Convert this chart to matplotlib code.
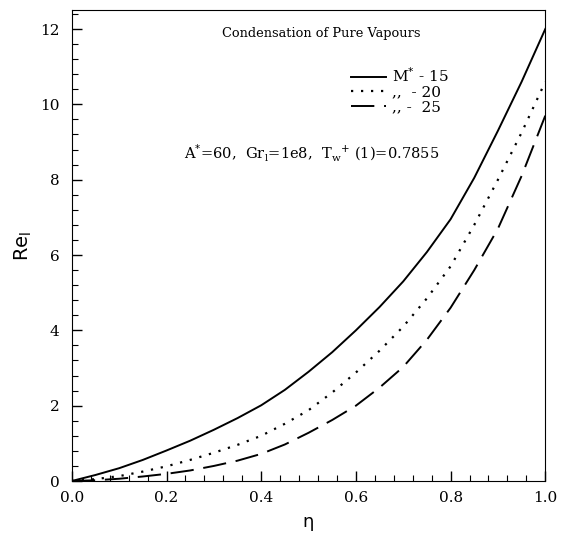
import matplotlib.pyplot as plt
import numpy as np

eta = [0.0, 0.05, 0.1, 0.15, 0.2, 0.25, 0.3, 0.35, 0.4, 0.45, 0.5,
       0.55, 0.6, 0.65, 0.7, 0.75, 0.8, 0.85, 0.9, 0.95, 1.0]
re_15 = [0.0, 0.16, 0.34, 0.56, 0.81, 1.07, 1.36, 1.67, 2.01, 2.42, 2.9,
         3.42, 4.0, 4.62, 5.3, 6.08, 6.95, 8.05, 9.3, 10.6, 12.0]
re_20 = [0.0, 0.05, 0.13, 0.25, 0.39, 0.56, 0.75, 0.96, 1.2, 1.52, 1.88,
         2.35, 2.88, 3.46, 4.1, 4.85, 5.7, 6.8, 8.0, 9.25, 10.6]
re_25 = [0.0, 0.02, 0.06, 0.12, 0.19, 0.28, 0.4, 0.54, 0.72, 0.97, 1.28,
         1.62, 2.0, 2.48, 3.03, 3.75, 4.6, 5.6, 6.7, 8.1, 9.7]
labels = [r"M$^{*}$ - 15", ",,  - 20", ",, -  25"]

serif = "DejaVu Serif"

fig = plt.figure(figsize=(5.61, 5.36), dpi=100)
ax = fig.add_axes([0.128, 0.1026, 0.844, 0.8784])

l1, = ax.plot(eta, re_15, color="black", lw=1.4, ls="-")
l2, = ax.plot(eta, re_20, color="black", lw=1.6, ls=(0, (1, 3.5)))
l3, = ax.plot(eta, re_25, color="black", lw=1.4, ls=(0, (12, 5)))

ax.set_xlim(0, 1.0)
ax.set_ylim(0, 12.5)
ax.set_xticks(np.arange(0, 1.01, 0.2))
ax.set_xticks(np.arange(0, 1.01, 0.04), minor=True)
ax.set_yticks(np.arange(0, 12.1, 2))
ax.set_yticks(np.arange(0, 12.5, 0.4), minor=True)
ax.set_xticklabels(["%.1f" % v for v in np.arange(0, 1.01, 0.2)], family=serif, fontsize=11)
ax.set_yticklabels(["%d" % v for v in np.arange(0, 12.1, 2)], family=serif, fontsize=11)
ax.tick_params(which="both", direction="in", top=False, right=False)
ax.tick_params(which="major", length=7, width=1)
ax.tick_params(which="minor", length=4, width=0.8)
ax.tick_params(axis="x", pad=7)
ax.tick_params(axis="y", pad=9)

ax.set_xlabel("η", fontsize=13, labelpad=6)
ax.set_ylabel("Re$_\\mathregular{l}$", fontsize=14, labelpad=4)

ax.text(0.526, 0.951, "Condensation of Pure Vapours", transform=ax.transAxes,
        ha="center", va="center", family=serif, fontsize=9.3)
ax.text(0.238, 0.696, r"A$^{*}$=60,  Gr$_\mathregular{l}$=1e8,  T$_\mathregular{w}$$^{+}$ (1)=0.7855",
        transform=ax.transAxes, ha="left", va="center", family=serif, fontsize=10.5)

leg = ax.legend([l1, l2, l3], labels, loc="upper left", bbox_to_anchor=(0.56, 0.91),
                frameon=False, handlelength=2.3, handletextpad=0.4, labelspacing=0.05,
                prop={"family": serif, "size": 11})

fig.savefig("out.png", dpi=100)
